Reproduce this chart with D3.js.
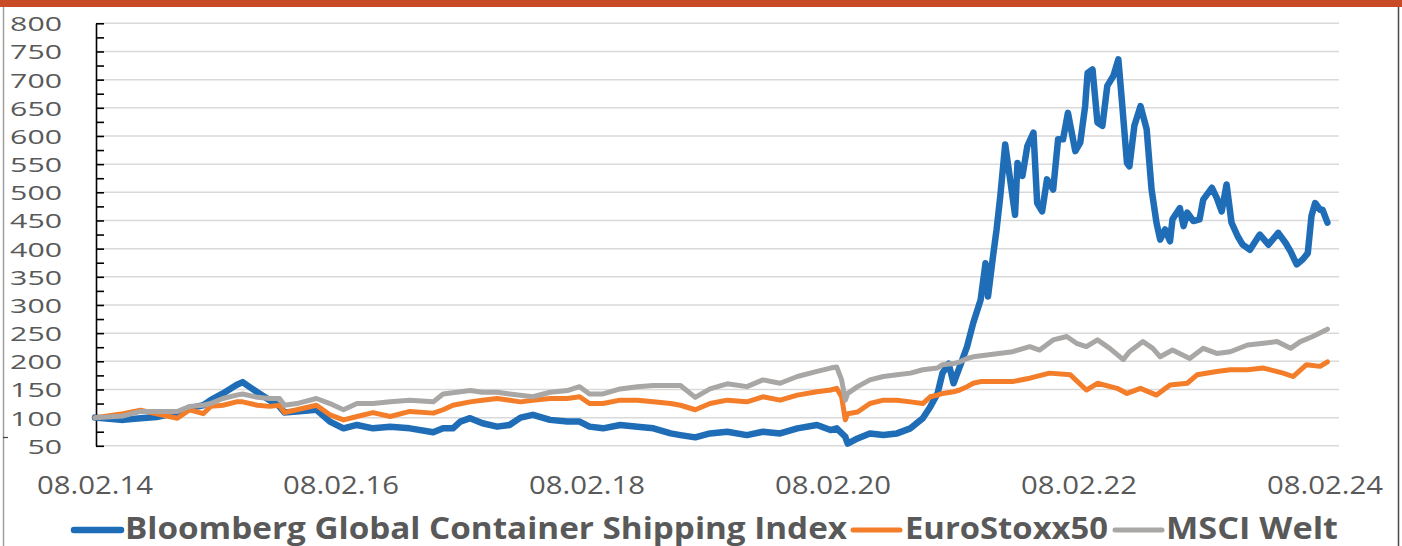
<!DOCTYPE html>
<html>
<head>
<meta charset="utf-8">
<script src="https://cdn.jsdelivr.net/npm/d3@7"></script>
<style>
  html, body { margin: 0; padding: 0; background: #fff; }
  svg { display: block; }
  text { font-family: "Open Sans", "DejaVu Sans", sans-serif; fill: #595959; }
</style>
</head>
<body>
<svg id="chart" width="1402" height="546"></svg>
<script>
// ---------- DATA (dates as decimal years) ----------
const seriesNames = ["Bloomberg Global Container Shipping Index", "EuroStoxx50", "MSCI Welt"];

const shippingDates = [2014.11,2014.34,2014.48,2014.61,2014.78,2014.88,2014.99,2015.05,2015.15,2015.26,
  2015.31,2015.43,2015.53,2015.61,2015.65,2015.75,2015.91,2016.02,2016.13,2016.24,
  2016.37,2016.51,2016.67,2016.86,2016.94,2017.02,2017.08,2017.16,2017.26,2017.38,
  2017.48,2017.57,2017.67,2017.81,2017.95,2018.05,2018.13,2018.24,2018.38,2018.52,
  2018.65,2018.79,2018.87,2018.99,2019.11,2019.25,2019.41,2019.54,2019.68,2019.82,
  2019.98,2020.09,2020.14,2020.21,2020.23,2020.31,2020.41,2020.52,2020.63,2020.74,
  2020.84,2020.90,2020.96,2021.00,2021.05,2021.09,2021.14,2021.20,2021.25,2021.31,
  2021.35,2021.37,2021.41,2021.44,2021.47,2021.51,2021.55,2021.59,2021.61,2021.65,
  2021.69,2021.74,2021.77,2021.81,2021.85,2021.90,2021.94,2021.98,2022.02,2022.08,
  2022.12,2022.16,2022.18,2022.22,2022.26,2022.30,2022.34,2022.39,2022.43,2022.46,
  2022.50,2022.52,2022.56,2022.61,2022.66,2022.70,2022.74,2022.77,2022.81,2022.85,
  2022.87,2022.93,2022.96,2022.99,2023.04,2023.09,2023.12,2023.19,2023.23,2023.27,
  2023.31,2023.35,2023.40,2023.44,2023.50,2023.58,2023.65,2023.73,2023.79,2023.83,
  2023.88,2023.93,2023.97,2024.00,2024.03,2024.07,2024.09,2024.13];
const shippingValues = [100,96,99,101,109,117,122,131,143,158,
  163,145,131,120,109,111,114,93,81,87,
  81,84,81,74,81,81,93,99,90,84,
  87,100,105,96,93,93,84,81,87,84,
  81,72,69,65,72,75,69,75,72,81,
  87,78,81,66,54,63,72,69,72,81,
  99,119,143,179,196,161,190,226,268,309,
  374,315,385,434,493,585,523,460,552,529,
  582,606,481,466,523,505,594,594,641,573,
  588,653,712,718,624,618,689,707,736,659,
  552,546,618,653,612,505,446,416,434,413,
  452,472,440,464,449,452,487,508,490,466,
  514,446,422,407,398,425,407,428,410,395,
  372,381,392,458,481,469,469,446];

const euroDates = [2014.11,2014.34,2014.48,2014.61,2014.78,2014.88,2014.99,2015.05,2015.15,2015.26,
  2015.31,2015.43,2015.53,2015.61,2015.65,2015.75,2015.91,2016.02,2016.13,2016.24,
  2016.37,2016.51,2016.67,2016.86,2016.94,2017.02,2017.16,2017.26,2017.38,2017.48,
  2017.57,2017.67,2017.81,2017.95,2018.05,2018.13,2018.24,2018.38,2018.52,2018.65,
  2018.79,2018.87,2018.99,2019.11,2019.25,2019.41,2019.54,2019.68,2019.82,2019.98,
  2020.09,2020.14,2020.18,2020.21,2020.23,2020.31,2020.41,2020.52,2020.63,2020.74,
  2020.84,2020.90,2020.96,2021.00,2021.09,2021.14,2021.20,2021.25,2021.31,2021.57,
  2021.71,2021.87,2022.04,2022.17,2022.26,2022.42,2022.50,2022.61,2022.74,2022.85,
  2022.99,2023.07,2023.23,2023.34,2023.48,2023.61,2023.77,2023.85,2023.96,2024.07,
  2024.13];
const euroValues = [100,107,113,107,99,114,107,120,122,128,
  128,122,120,122,109,114,122,105,96,102,
  109,102,111,108,114,122,128,131,134,131,
  128,131,134,134,137,125,125,131,131,128,
  125,122,114,125,131,128,137,131,140,146,
  149,152,137,96,107,110,125,131,131,128,
  125,137,140,143,146,149,155,161,164,164,
  170,179,176,149,161,152,143,152,140,158,
  161,176,182,185,185,188,179,173,194,191,
  199];

const msciDates = [2014.11,2014.34,2014.48,2014.61,2014.78,2014.88,2014.99,2015.05,2015.15,2015.26,
  2015.31,2015.43,2015.53,2015.61,2015.65,2015.75,2015.91,2016.02,2016.13,2016.24,
  2016.37,2016.51,2016.67,2016.86,2016.94,2017.16,2017.26,2017.38,2017.48,2017.67,
  2017.81,2017.95,2018.05,2018.13,2018.24,2018.38,2018.52,2018.65,2018.87,2018.99,
  2019.11,2019.25,2019.41,2019.54,2019.68,2019.82,2019.98,2020.09,2020.14,2020.18,
  2020.21,2020.23,2020.31,2020.41,2020.52,2020.63,2020.74,2020.84,2020.96,2021.00,
  2021.09,2021.14,2021.20,2021.25,2021.57,2021.71,2021.79,2021.90,2022.01,2022.09,
  2022.17,2022.26,2022.36,2022.47,2022.52,2022.63,2022.71,2022.77,2022.87,2023.01,
  2023.12,2023.23,2023.34,2023.48,2023.61,2023.72,2023.83,2023.91,2024.01,2024.13];
const msciValues = [100,103,111,111,111,120,122,125,134,140,
  142,136,134,134,122,125,134,125,114,125,
  125,128,131,128,142,148,145,145,142,137,
  145,148,155,142,142,151,155,157,157,136,
  151,160,155,167,161,173,182,188,190,167,
  131,143,155,167,173,176,179,185,188,194,
  196,199,205,208,217,226,220,238,244,232,
  226,238,223,203,217,235,223,208,220,205,
  223,214,217,229,232,235,223,235,244,257];

const xTickYears = [2014.11, 2016.11, 2018.11, 2020.11, 2022.11, 2024.11];
const xTickLabels = ["08.02.14", "08.02.16", "08.02.18", "08.02.20", "08.02.22", "08.02.24"];
const yTickValues = [50,100,150,200,250,300,350,400,450,500,550,600,650,700,750,800];

// ---------- STYLE ----------
const colors = ["#1f6db7", "#f47d2a", "#a9a7a5"];
const widths = [6.5, 5, 5];

const svg = d3.select("#chart");
svg.append("rect").attr("width", 1402).attr("height", 546).attr("fill", "#fff");

// top band and frame
svg.append("rect").attr("x", 0).attr("y", 0).attr("width", 1402).attr("height", 7).attr("fill", "#c94a26");
svg.append("line").attr("x1", 3.5).attr("x2", 3.5).attr("y1", 7).attr("y2", 546)
  .attr("stroke", "#a0a0a0").attr("stroke-width", 1.5);
svg.append("line").attr("x1", 3).attr("x2", 8).attr("y1", 437.5).attr("y2", 437.5)
  .attr("stroke", "#404040").attr("stroke-width", 1.2);
svg.append("line").attr("x1", 1398.5).attr("x2", 1398.5).attr("y1", 7).attr("y2", 546)
  .attr("stroke", "#4a4a4a").attr("stroke-width", 1.5);

const x = d3.scaleLinear().domain([2014.11, 2024.11]).range([95, 1325]);
const y = d3.scaleLinear().domain([50, 800]).range([445.8, 23.3]);

// gridlines
svg.append("g").selectAll("line").data(yTickValues).join("line")
  .attr("x1", 96).attr("x2", 1339)
  .attr("y1", d => y(d)).attr("y2", d => y(d))
  .attr("stroke", "#d9d9d9").attr("stroke-width", 1.5);

// y axis with inward ticks (major & minor every 25)
const yAxis = d3.axisRight(y).tickValues(d3.range(50, 801, 25)).tickSize(8).tickSizeOuter(0).tickFormat("");
const ga = svg.append("g").attr("transform", "translate(96,0)").call(yAxis);
ga.select(".domain").attr("stroke", "#000").attr("stroke-width", 1.6);
ga.selectAll(".tick line").attr("stroke", "#000").attr("stroke-width", 1.6);

// y labels
svg.append("g").selectAll("text").data(yTickValues).join("text")
  .attr("x", 62).attr("y", d => y(d))
  .attr("text-anchor", "end").attr("dominant-baseline", "central")
  .attr("font-size", 20.5)
  .attr("textLength", d => String(d).length * 17.3)
  .attr("lengthAdjust", "spacingAndGlyphs")
  .text(d => d);

// x labels
svg.append("g").selectAll("text").data(xTickYears).join("text")
  .attr("x", d => x(d)).attr("y", 494)
  .attr("text-anchor", "middle")
  .attr("font-size", 26)
  .attr("textLength", 116)
  .attr("lengthAdjust", "spacingAndGlyphs")
  .text((d, i) => xTickLabels[i]);

// series
const series = [
  { dates: shippingDates, values: shippingValues },
  { dates: euroDates, values: euroValues },
  { dates: msciDates, values: msciValues }
];
const line = d3.line().x(d => x(d[0])).y(d => y(d[1]));
series.forEach((s, i) => {
  const pts = s.dates.map((d, k) => [d, s.values[k]]);
  svg.append("path").datum(pts)
    .attr("d", line)
    .attr("fill", "none")
    .attr("stroke", colors[i])
    .attr("stroke-width", widths[i])
    .attr("stroke-linejoin", "round")
    .attr("stroke-linecap", "round");
});

// legend
const legend = [
  { lx1: 74, lx2: 121, tx: 125, tw: 722 },
  { lx1: 853, lx2: 900, tx: 905, tw: 203 },
  { lx1: 1115, lx2: 1162, tx: 1166, tw: 172 }
];
legend.forEach((l, i) => {
  svg.append("line").attr("x1", l.lx1).attr("x2", l.lx2).attr("y1", 530).attr("y2", 530)
    .attr("stroke", colors[i]).attr("stroke-width", widths[i]).attr("stroke-linecap", "round");
  svg.append("text").attr("x", l.tx).attr("y", 538.5)
    .attr("font-size", 31).attr("font-weight", "bold")
    .attr("textLength", l.tw).attr("lengthAdjust", "spacingAndGlyphs")
    .text(seriesNames[i]);
});
</script>
</body>
</html>
